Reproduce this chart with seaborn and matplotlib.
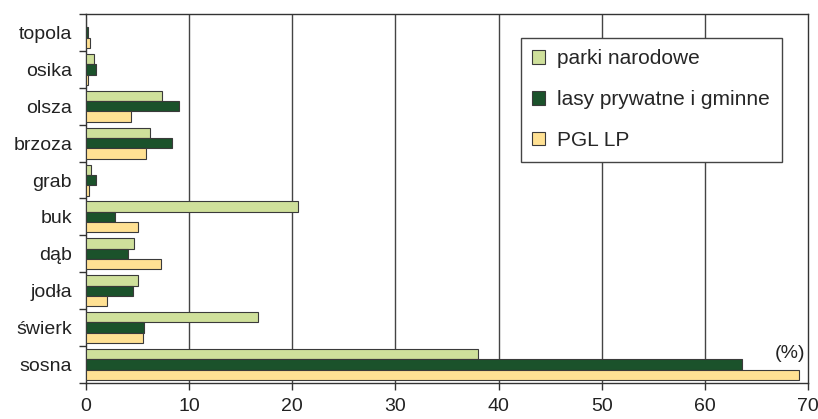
import matplotlib
matplotlib.use("Agg")
import matplotlib.pyplot as plt
import seaborn as sns
import pandas as pd
import numpy as np
from matplotlib.patches import Patch

species = ["topola", "osika", "olsza", "brzoza", "grab", "buk", "dąb", "jodła", "świerk", "sosna"]
series_names = ["parki narodowe", "lasy prywatne i gminne", "PGL LP"]
parki = [0.0, 0.8, 7.4, 6.2, 0.5, 20.6, 4.7, 5.0, 16.7, 38.0]
lasy = [0.15, 1.0, 9.0, 8.3, 1.0, 2.8, 4.1, 4.6, 5.6, 63.6]
pgl = [0.4, 0.2, 4.4, 5.8, 0.3, 5.0, 7.3, 2.0, 5.5, 69.1]
x_ticks = [0, 10, 20, 30, 40, 50, 60, 70]
colors = ["#cfe09b", "#1b522b", "#ffe193"]

rows = []
for name, vals in zip(series_names, [parki, lasy, pgl]):
    for sp, v in zip(species, vals):
        rows.append({"gatunek": sp, "seria": name, "wartosc": v})
df = pd.DataFrame(rows)

sns.set_style("white")
plt.rcParams["font.family"] = ["Liberation Sans", "DejaVu Sans"]

fig = plt.figure(figsize=(8.18, 4.19), dpi=100)
ax = fig.add_axes([86 / 818, 1 - 383 / 419, (808 - 86) / 818, (383 - 14) / 419])

sns.barplot(data=df, y="gatunek", x="wartosc", hue="seria", order=species,
            hue_order=series_names, palette=colors, orient="h", width=0.84,
            edgecolor="#3a3a3a", linewidth=0.8, saturation=1, ax=ax, legend=False,
            zorder=3)

ax.set_xlim(0, 70)
ax.set_ylim(len(species) - 0.5, -0.5)
ax.set_xticks(x_ticks)
ax.set_xticklabels([str(t) for t in x_ticks], fontsize=14, color="#222222")
ax.set_xlabel("")
ax.set_ylabel("")
ax.tick_params(axis="y", which="major", length=0, labelsize=14, labelcolor="#222222", pad=10)
ax.set_yticks(np.arange(-0.5, len(species), 1.0), minor=True)
ax.tick_params(axis="y", which="minor", length=5, width=1, color="#333333", direction="out", left=True)
ax.tick_params(axis="x", which="major", length=5, width=1, color="#333333", direction="out", bottom=True, pad=6)

for t in x_ticks[1:-1]:
    ax.axvline(t, color="#444444", linewidth=1, zorder=1)

for s in ax.spines.values():
    s.set_visible(True)
    s.set_color("#333333")
    s.set_linewidth(1)

ax.text(69.7, 8.7, "(%)", ha="right", va="center", fontsize=14, color="#222222")

handles = [Patch(facecolor=c, edgecolor="#3a3a3a", linewidth=0.8) for c in colors]
leg = ax.legend(handles, series_names, loc="upper left",
                bbox_to_anchor=((521 - 86) / 722, 1 - (38 - 14) / 369),
                fontsize=15, frameon=True, fancybox=False, edgecolor="#444444",
                framealpha=1, handlelength=0.6, handleheight=0.6, handletextpad=0.6,
                labelspacing=1.05, borderpad=0.55, borderaxespad=0)
leg.get_frame().set_linewidth(1)
leg.set_zorder(5)

fig.savefig("out.png", dpi=100)
